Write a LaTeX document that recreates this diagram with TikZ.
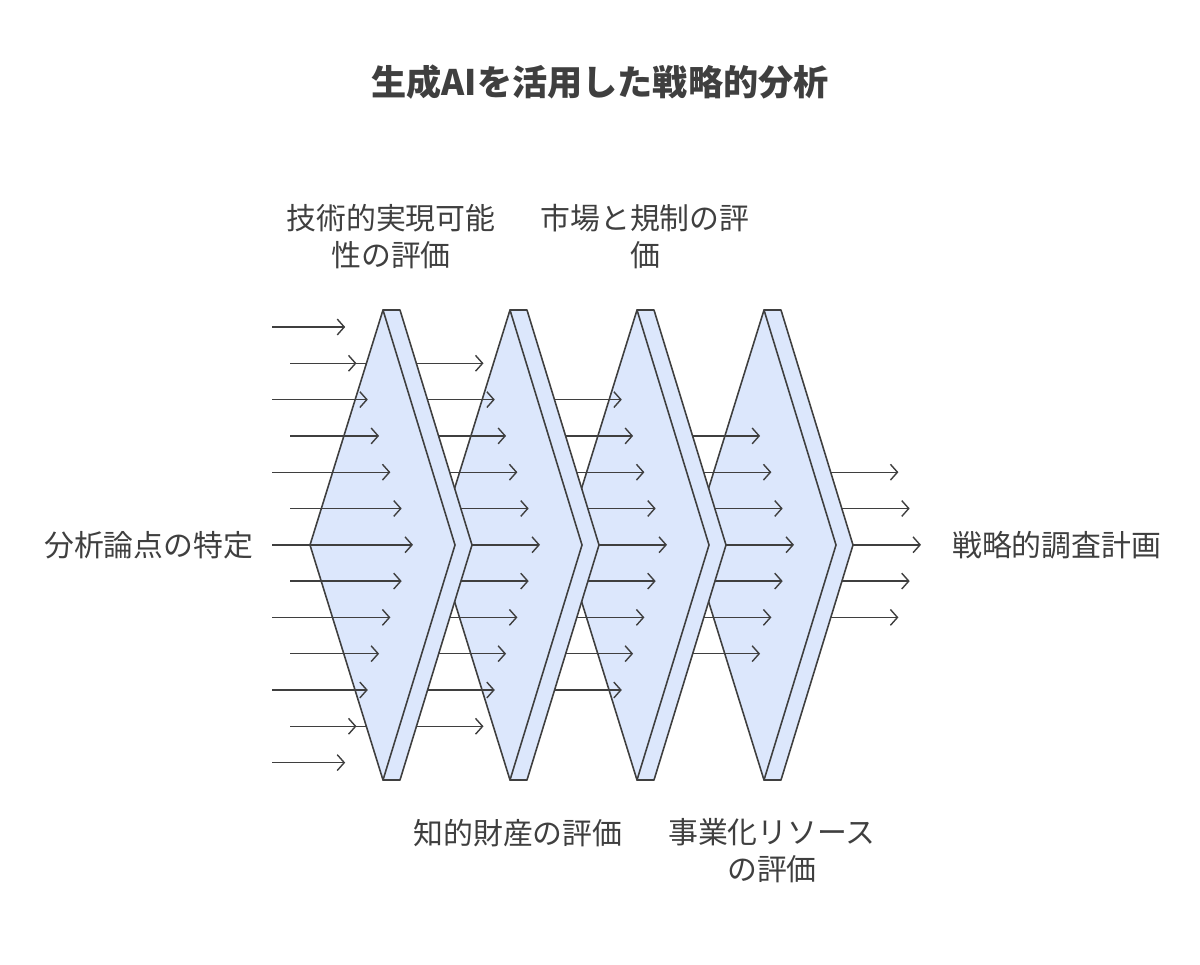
\documentclass[tikz,border=0pt]{standalone}
\usepackage{fontspec}
\setmainfont{Noto Sans CJK JP}
\usetikzlibrary{arrows.meta}
\definecolor{facefill}{HTML}{DCE7FC}
\definecolor{edgegray}{HTML}{3F3F3F}
\tikzset{
  face/.style={fill=facefill, draw=edgegray, line width=0.9pt, line join=round},
  flow/.style={draw=edgegray, line width=0.8pt, -{Straight Barb[length=4pt,width=9pt]}},
  lbl/.style={text=edgegray, font=\fontsize{17}{21}\selectfont, align=center}
}
\begin{document}
\begin{tikzpicture}[x=0.02cm, y=-0.02cm]
\useasboundingbox (0,0) rectangle (1200,964);
\node[text=edgegray, font=\fontsize{20}{24}\selectfont\bfseries] (title) at (600,82) {生成AIを活用した戦略的分析};
% output arrows
\foreach \i in {4,...,8} {
  \pgfmathsetmacro{\xe}{921-11.3*abs(\i-6)}
  \coordinate (o\i) at (780,327+36.3*\i);
  \draw[flow] (o\i) -- (\xe,327+36.3*\i);
}
% stages, back to front
\foreach \c in {4,3,2,1} {
  \pgfmathsetmacro{\dx}{127*(\c-1)}
  \draw[face] (383+\dx,310) -- (400+\dx,310) -- (472+\dx,545) -- (400+\dx,780) -- (383+\dx,780) -- cycle;
  \draw[face] (383+\dx,310) -- (455+\dx,545) -- (383+\dx,780) -- (310+\dx,545) -- cycle;
  \pgfmathtruncatemacro{\lo}{\c-1}
  \pgfmathtruncatemacro{\hi}{13-\c}
  \foreach \i in {\lo,...,\hi} {
    \pgfmathsetmacro{\xe}{413+\dx-11.3*abs(\i-6)}
    \pgfmathsetmacro{\xs}{\c==1 ? (mod(\i,2)==0 ? 272 : 290) : \xe-150}
    \draw[flow] (\xs,327+36.3*\i) -- (\xe,327+36.3*\i);
  }
}
\node[lbl] (tech) at (391,237) {技術的実現可能\\性の評価};
\node[lbl] (market) at (645,237) {市場と規制の評\\価};
\node[lbl] (ip) at (518,833) {知的財産の評価};
\node[lbl] (res) at (772,851) {事業化リソース\\の評価};
\node[lbl, anchor=west] (input) at (38,545) {分析論点の特定};
\node[lbl, anchor=west] (output) at (946,545) {戦略的調査計画};
\end{tikzpicture}
\end{document}
